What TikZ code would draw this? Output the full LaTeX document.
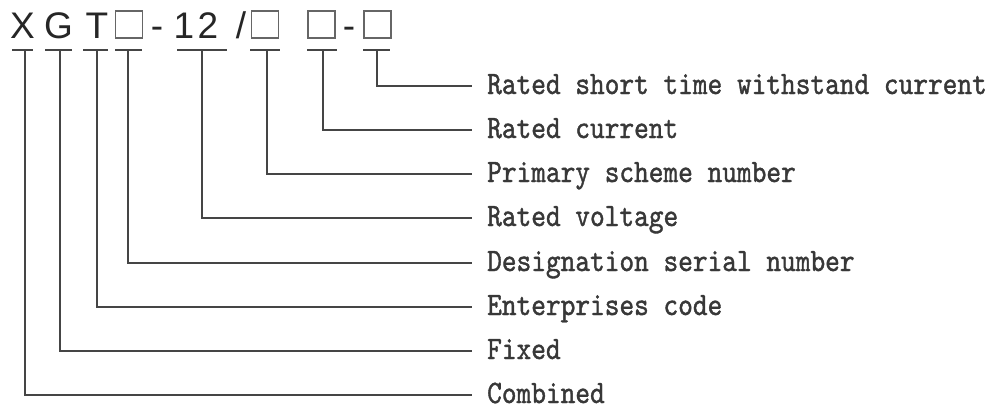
\documentclass[tikz,border=0pt]{standalone}
\usepackage{fontspec}
\setmainfont{Liberation Sans}
\newfontfamily\labelfont[FakeStretch=0.856,FakeBold=1.2]{lmmono10-regular.otf}
\definecolor{linegray}{HTML}{454545}
\definecolor{textgray}{HTML}{383838}

\begin{document}
\begin{tikzpicture}[x=1pt, y=-1pt,
		code/.style={anchor=base, inner sep=0pt, font=\fontsize{37}{37}\selectfont, text=black!85},
		slot/.style={draw=black!60, line width=1.5pt, minimum width=27pt, minimum height=27pt, inner sep=0pt},
		label/.style={anchor=west, inner xsep=15pt, inner ysep=0pt, text height=16pt, text depth=0pt,
			font=\labelfont\fontsize{32.7}{33}\selectfont, text=textgray},
		lead/.style={line width=1.8pt, draw=linegray}]
		\useasboundingbox (0,0) rectangle (995,408);
		%%%%% CODE %%%%%
		\node[code] (cX) at (22.5, 38) {X};
		\node[code] (cG) at (58.5, 38) {G};
		\node[code] (cT) at (97, 38) {T};
		\node[slot] (cSerial) at (129, 24.5) {};
		\node[code] (cDashA) at (157, 38) {-};
		\node[code] (cOne) at (184, 38) {1};
		\node[code] (cTwo) at (208, 38) {2};
		\node[code] (cSlash) at (241, 38) {/};
		\node[slot] (cScheme) at (265, 24.5) {};
		\node[slot] (cCurrent) at (321.5, 24.5) {};
		\node[code] (cDashB) at (349, 38) {-};
		\node[slot] (cShort) at (377.5, 24.5) {};
		
		%%%%% TICKS %%%%%
		\coordinate (tX) at (25, 50);
		\coordinate (tG) at (60, 50);
		\coordinate (tT) at (97, 50);
		\coordinate (tSerial) at (128, 50);
		\coordinate (tVolt) at (202, 50);
		\coordinate (tScheme) at (267, 50);
		\coordinate (tCurrent) at (323, 50);
		\coordinate (tShort) at (377, 50);
		\draw[lead] (12, 50) -- (33, 50);
		\draw[lead] (45, 50) -- (72, 50);
		\draw[lead] (83, 50) -- (108, 50);
		\draw[lead] (115, 50) -- (142, 50);
		\draw[lead] (177, 50) -- (227, 50);
		\draw[lead] (250, 50) -- (280, 50);
		\draw[lead] (307, 50) -- (337, 50);
		\draw[lead] (363, 50) -- (390, 50);
		
		%%%%% LABELS %%%%%
		\node[label] (lShort) at (472, 86) {Rated short time withstand current};
		\node[label] (lCurrent) at (472, 130) {Rated current};
		\node[label] (lScheme) at (472, 174) {Primary scheme number};
		\node[label] (lVolt) at (472, 218) {Rated voltage};
		\node[label] (lSerial) at (472, 263) {Designation serial number};
		\node[label] (lT) at (472, 307) {Enterprises code};
		\node[label] (lG) at (472, 351) {Fixed};
		\node[label] (lX) at (472, 395) {Combined};
		
		%%%%% LEADS %%%%%
		\draw[lead] (tShort) |- (lShort.west);
		\draw[lead] (tCurrent) |- (lCurrent.west);
		\draw[lead] (tScheme) |- (lScheme.west);
		\draw[lead] (tVolt) |- (lVolt.west);
		\draw[lead] (tSerial) |- (lSerial.west);
		\draw[lead] (tT) |- (lT.west);
		\draw[lead] (tG) |- (lG.west);
		\draw[lead] (tX) |- (lX.west);
\end{tikzpicture}
\end{document}
